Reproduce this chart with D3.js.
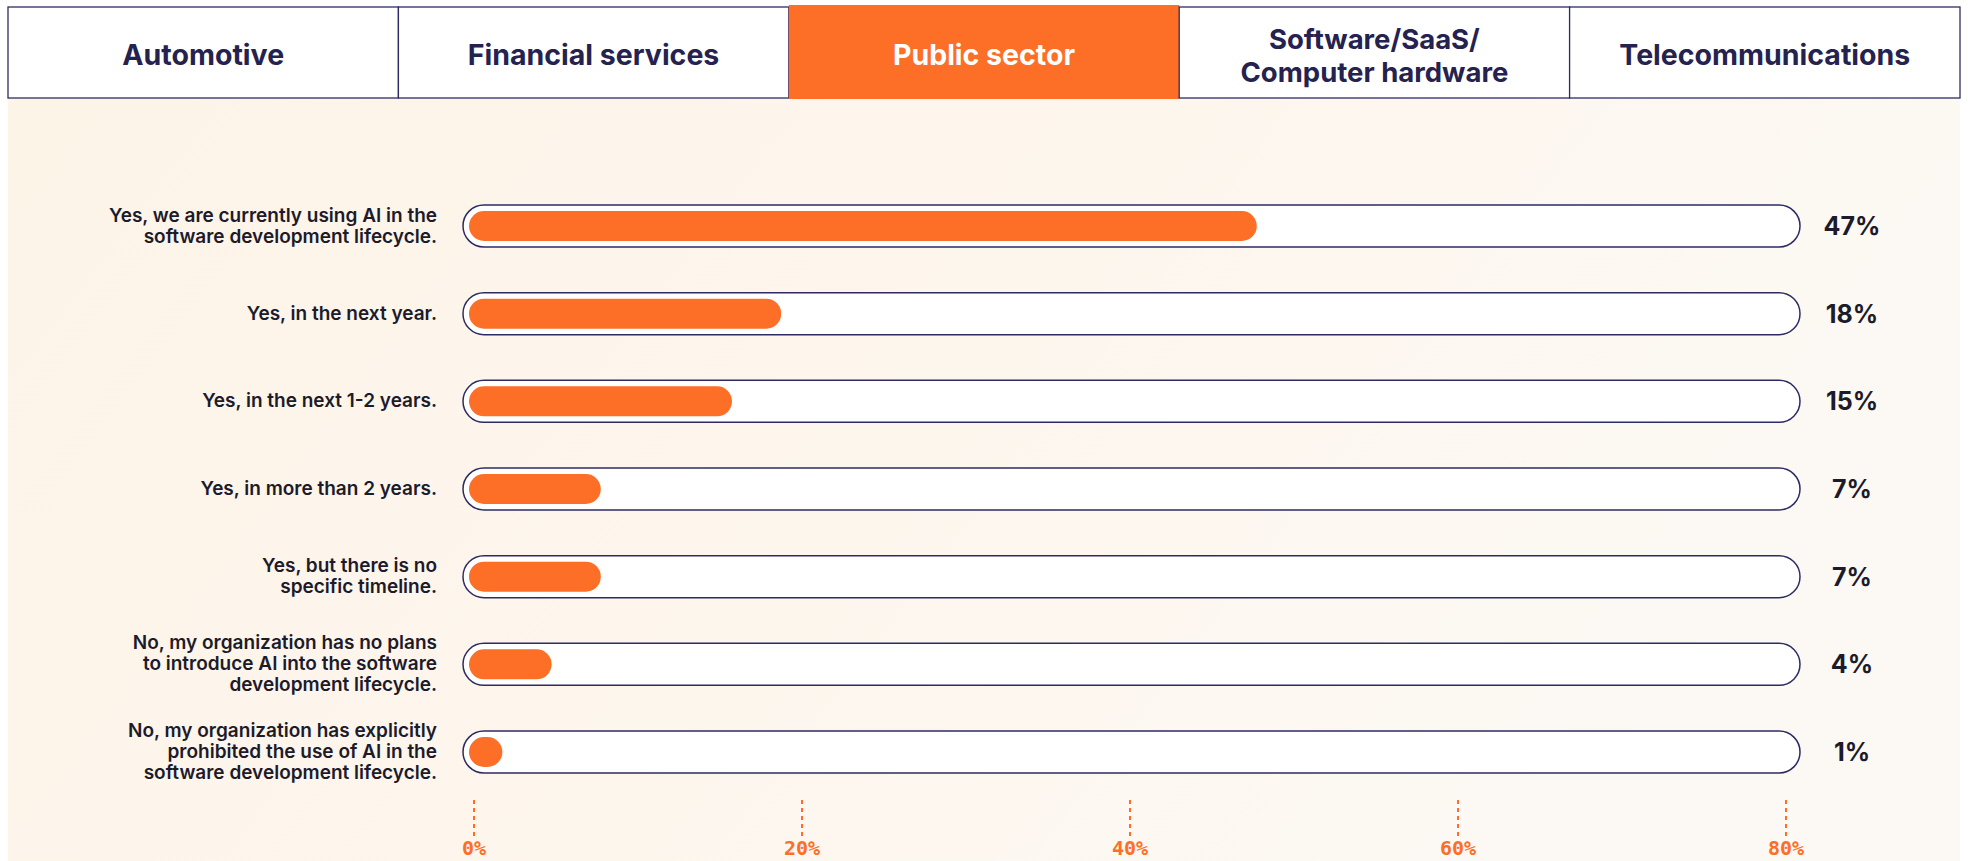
<!DOCTYPE html>
<html>
<head>
<meta charset="utf-8">
<script src="https://cdn.jsdelivr.net/npm/d3@7"></script>
<style>
  html, body { margin: 0; padding: 0; background: #ffffff; }
  svg { display: block; }
</style>
</head>
<body>
<svg width="1968" height="861"></svg>
<script>
// Datos del gráfico
const tabs = ["Automotive", "Financial services", "Public sector", "Software/SaaS/\nComputer hardware", "Telecommunications"];
const activeTab = "Public sector";

const answers = [
  "Yes, we are currently using AI in the\nsoftware development lifecycle.",
  "Yes, in the next year.",
  "Yes, in the next 1-2 years.",
  "Yes, in more than 2 years.",
  "Yes, but there is no\nspecific timeline.",
  "No, my organization has no plans\nto introduce AI into the software\ndevelopment lifecycle.",
  "No, my organization has explicitly\nprohibited the use of AI in the\nsoftware development lifecycle."
];
const values = [47, 18, 15, 7, 7, 4, 1];
const ticks = [0, 20, 40, 60, 80];

const orange = "#fd6e27", navy = "#2e2b63", ink = "#1c1b2b";

const svg = d3.select("svg"),
      width = +svg.attr("width"),
      height = +svg.attr("height");

// Fondo con degradado crema
const defs = svg.append("defs");
const grad = defs.append("linearGradient").attr("id", "bg")
    .attr("x1", "0%").attr("y1", "0%").attr("x2", "100%").attr("y2", "30%");
grad.append("stop").attr("offset", "0%").attr("stop-color", "#fdf4e8");
grad.append("stop").attr("offset", "55%").attr("stop-color", "#fdf6ed");
grad.append("stop").attr("offset", "100%").attr("stop-color", "#fcf9f4");

svg.append("rect")
    .attr("x", 8).attr("y", 98)
    .attr("width", 1952).attr("height", height - 98)
    .attr("fill", "url(#bg)");

// Pestañas
const tabX = d3.scaleBand().domain(tabs).range([8, 1960]);
const tab = svg.append("g").selectAll("g")
    .data(tabs)
    .enter().append("g");

tab.append("rect")
    .attr("x", d => tabX(d))
    .attr("y", d => d === activeTab ? 5 : 7)
    .attr("width", tabX.bandwidth())
    .attr("height", d => d === activeTab ? 94 : 91)
    .attr("fill", d => d === activeTab ? orange : "#ffffff")
    .attr("stroke", d => d === activeTab ? "none" : navy)
    .attr("stroke-width", 1.3);

// Una línea de texto por renglón de la pestaña
tab.each(function(d) {
    const lines = d.split("\n");
    const cx = tabX(d) + tabX.bandwidth() / 2;
    const lh = 33;
    const y0 = 55 - (lines.length - 1) * lh / 2 + 10;
    d3.select(this).selectAll("text")
        .data(lines)
        .enter().append("text")
        .attr("x", cx)
        .attr("y", (l, i) => y0 + i * lh)
        .attr("text-anchor", "middle")
        .attr("font-family", "Inter, sans-serif")
        .attr("font-weight", 700)
        .attr("font-size", lines.length > 1 ? 27.5 : 28.5)
        .attr("fill", d === activeTab ? "#ffffff" : "#25224f")
        .text(l => l);
});

// Escalas
const x = d3.scaleLinear().domain([0, 80]).range([474, 1786]);
const y = d3.scalePoint().domain(answers).range([226, 752]);

const trackH = 42, fillH = 30;

const row = svg.append("g").selectAll("g")
    .data(answers)
    .enter().append("g")
    .attr("transform", d => `translate(0,${y(d)})`);

// Carril de la barra
row.append("rect")
    .attr("x", 463)
    .attr("y", -trackH / 2)
    .attr("width", 1800 - 463)
    .attr("height", trackH)
    .attr("rx", trackH / 2)
    .attr("fill", "#ffffff")
    .attr("stroke", navy)
    .attr("stroke-width", 1.5);

// Barra de valor
row.append("rect")
    .attr("x", x(0) - 5)
    .attr("y", -fillH / 2)
    .attr("width", (d, i) => Math.max(fillH + 2, x(values[i]) + 12 - (x(0) - 5)))
    .attr("height", fillH)
    .attr("rx", fillH / 2)
    .attr("fill", orange);

// Etiquetas de categoría
row.append("text")
    .attr("text-anchor", "end")
    .attr("font-family", "Inter, sans-serif")
    .attr("font-weight", 600)
    .attr("font-size", 19)
    .attr("fill", ink)
    .each(function(d) {
        const lines = d.split("\n");
        const y0 = -(lines.length - 1) * 10.5 + 6;
        d3.select(this).selectAll("tspan")
            .data(lines)
            .enter().append("tspan")
            .attr("x", 437)
            .attr("y", (l, i) => y0 + i * 21)
            .text(l => l);
    });

// Valores
row.append("text")
    .attr("x", 1852)
    .attr("y", 9)
    .attr("text-anchor", "middle")
    .attr("font-family", "Inter, sans-serif")
    .attr("font-weight", 700)
    .attr("font-size", 25)
    .attr("fill", ink)
    .text((d, i) => values[i] + "%");

// Eje inferior punteado
const axis = svg.append("g").selectAll("g")
    .data(ticks)
    .enter().append("g")
    .attr("transform", d => `translate(${x(d)},0)`);

axis.append("line")
    .attr("y1", 800).attr("y2", 836)
    .attr("stroke", orange)
    .attr("stroke-width", 2)
    .attr("stroke-dasharray", "4,4");

axis.append("text")
    .attr("y", 855)
    .attr("text-anchor", "middle")
    .attr("font-family", "'DejaVu Sans Mono', monospace")
    .attr("font-weight", 700)
    .attr("font-size", 20)
    .attr("fill", orange)
    .text(d => d + "%");
</script>
</body>
</html>
